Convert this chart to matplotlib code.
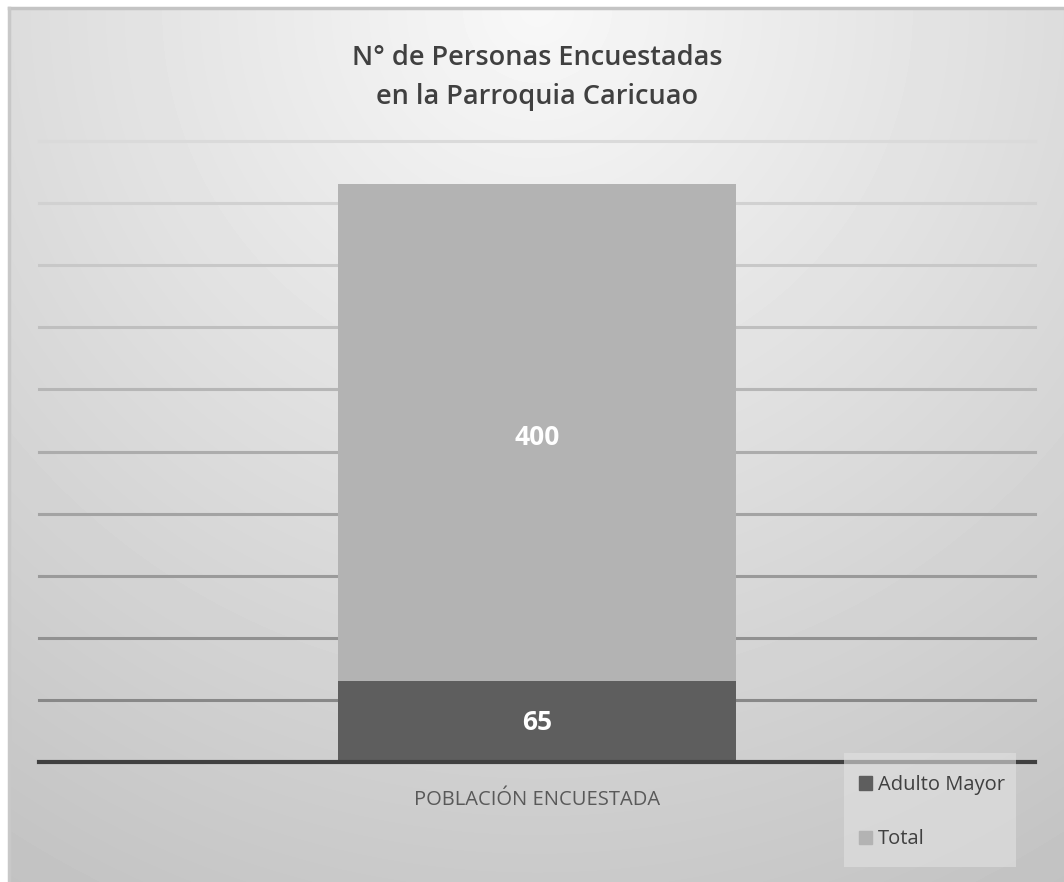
import numpy as np
import matplotlib.pyplot as plt
from matplotlib.patches import Patch, Rectangle

# data
category = ["POBLACIÓN ENCUESTADA"]
adulto_mayor = [65]
total = [400]
series_names = ["Adulto Mayor", "Total"]
y_ticks = [50, 100, 150, 200, 250, 300, 350, 400, 450, 500]

W, H = 1064, 882
fig = plt.figure(figsize=(W / 100, H / 100), dpi=100)
fig.patch.set_facecolor("white")

# radial gray background of the chart panel
bg = fig.add_axes([9 / W, 0, (W - 9) / W, (H - 8) / H])
bg.set_axis_off()
yy, xx = np.mgrid[0:H - 8, 0:W - 9]
dist = np.hypot(xx + 9 - 537, yy)
shade = np.clip(248 - 0.053 * dist, 185, 250) / 255.0
bg.imshow(shade, cmap="gray", vmin=0, vmax=1, aspect="auto",
          interpolation="bilinear", extent=(0, 1, 0, 1), origin="upper")
bg.set_xlim(0, 1)
bg.set_ylim(0, 1)
bg.plot([0, 1], [1, 1], color="#c4c4c4", lw=2.5, transform=bg.transAxes, clip_on=False)
bg.plot([0, 0], [0, 1], color="#c8c8c8", lw=2.5, transform=bg.transAxes, clip_on=False)

ax = fig.add_axes([39 / W, 120 / H, 996 / W, 621 / H])
ax.set_facecolor("none")
ax.set_xlim(-0.5, 0.5)
ax.set_ylim(0, 500)

# gridlines, getting darker toward the bottom
for v in y_ticks:
    g = 0x88 + (0xda - 0x88) * (v - 50) / 450
    ax.axhline(v, color=(g / 255, g / 255, g / 255), lw=2.2, zorder=1, clip_on=False)

x = np.arange(len(category))
bw = 0.399
ax.bar(x, adulto_mayor, width=bw, color="#5e5e5e", zorder=3)
ax.bar(x, total, width=bw, bottom=adulto_mayor, color="#b3b3b3", zorder=3)

for xi, a, t in zip(x, adulto_mayor, total):
    ax.text(xi, a / 2 - 1, str(a), ha="center", va="center", color="white",
            fontsize=19, fontweight="bold", family="Open Sans", zorder=4)
    ax.text(xi, a + t / 2 - 4, str(t), ha="center", va="center", color="white",
            fontsize=19, fontweight="bold", family="Open Sans", zorder=4)

ax.axhline(0, color="#404040", lw=3, zorder=5, clip_on=False)
for s in ax.spines.values():
    s.set_visible(False)
ax.set_yticks([])
ax.set_xticks(x)
ax.set_xticklabels(category, fontsize=14.5, color="#595959", family="Open Sans")
ax.tick_params(axis="x", length=0, pad=20)

fig.text(537 / W, 1 - 58 / H, "N° de Personas Encuestadas", ha="center", va="center",
         fontsize=19.5, color="#404040", family="Open Sans", fontweight="semibold")
fig.text(537 / W, 1 - 97 / H, "en la Parroquia Caricuao", ha="center", va="center",
         fontsize=19.5, color="#404040", family="Open Sans", fontweight="semibold")

# legend box
fig.add_artist(Rectangle((844 / W, 1 - 867 / H), 172 / W, 114 / H, transform=fig.transFigure,
                         facecolor="#e2e2e2", alpha=0.6, edgecolor="none", zorder=6))
handles = [Patch(color="#5e5e5e"), Patch(color="#b3b3b3")]
leg = fig.legend(handles, series_names, loc="upper left",
                 bbox_to_anchor=(849 / W, 1 - 765 / H), frameon=False, borderpad=0,
                 handlelength=0.65, handleheight=0.65, handletextpad=0.3,
                 labelspacing=1.7, prop={"family": "Open Sans", "size": 14.5})
for t in leg.get_texts():
    t.set_color("#404040")
leg.set_zorder(7)

fig.savefig("out.png", dpi=100)
